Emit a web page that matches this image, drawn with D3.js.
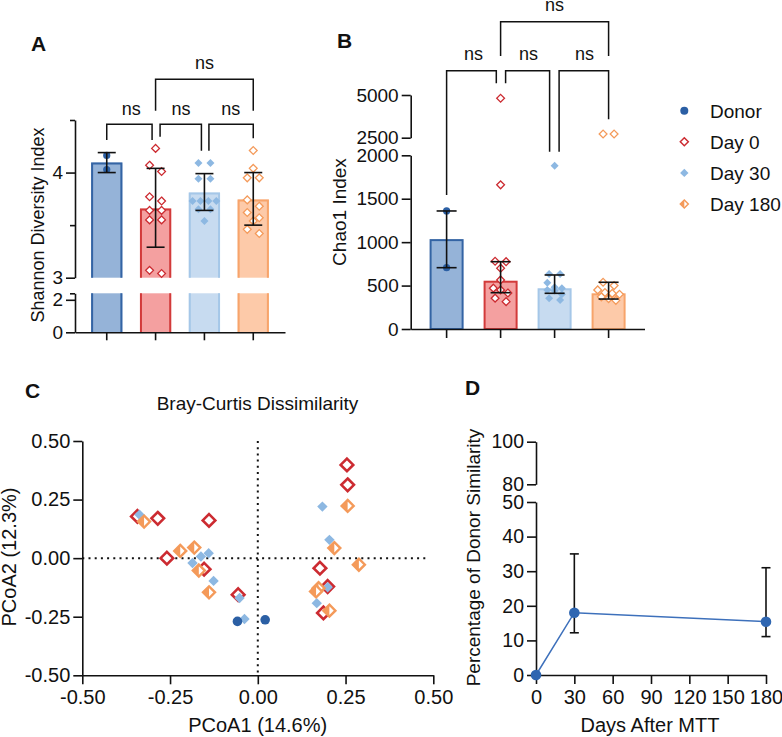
<!DOCTYPE html>
<html><head><meta charset="utf-8">
<script src="https://cdn.jsdelivr.net/npm/d3@7"></script>
<style>
body{margin:0;background:#fff}
svg{display:block}
text{font-family:"Liberation Sans",Arial,sans-serif;fill:#111}
</style>
</head><body>
<svg id="chart" width="782" height="737"></svg>
<script>
// ---------------- DATA ----------------
const groups = ["Donor", "Day 0", "Day 30", "Day 180"];

// Panel A: Shannon diversity
const shannonPoints = [
  [4.163, 4.029],
  [4.23, 4.07, 4.01, 3.77, 3.73, 3.64, 3.64, 3.55, 3.55, 3.07, 3.04],
  [4.09, 4.09, 3.94, 3.94, 3.73, 3.73, 3.73, 3.73, 3.65, 3.65, 3.54],
  [4.21, 4.04, 3.95, 3.95, 3.74, 3.68, 3.62, 3.57, 3.54, 3.46, 3.42]
];
const shannonBar = [4.096, 3.658, 3.81, 3.744];
const shannonErrLo = [4.0, 3.29, 3.64, 3.50];
const shannonErrHi = [4.19, 4.04, 3.99, 4.00];

// Panel B: Chao1
const chaoPoints = [
  [1359, 706],
  [4807, 1660, 780, 775, 700, 565, 470, 450, 415, 355, 315],
  [1881, 634, 634, 533, 480, 470, 449, 440, 400, 354, 334],
  [2717, 2717, 538, 500, 450, 420, 410, 400, 370, 350, 330]
];
const chaoBar = [1035, 556, 469, 411];
const chaoErrLo = [706, 418, 411, 345];
const chaoErrHi = [1359, 775, 622, 538];

// Panel C: PCoA (Bray-Curtis)
const pcoaDonor = [[-0.058, -0.270], [0.021, -0.263]];
const pcoaDay0 = [[-0.343, 0.178], [-0.285, 0.170], [-0.139, 0.161], [-0.259, 0.000], [-0.153, -0.047],
  [-0.056, -0.156], [0.254, 0.398], [0.256, 0.313], [0.177, -0.043], [0.199, -0.121], [0.187, -0.234]];
const pcoaDay30 = [[-0.337, 0.185], [-0.186, -0.021], [-0.162, 0.007], [-0.140, 0.021], [-0.126, -0.097],
  [-0.052, -0.170], [-0.038, -0.260], [0.184, 0.220], [0.204, 0.078], [0.199, -0.124], [0.168, -0.192]];
const pcoaDay180 = [[-0.324, 0.156], [-0.221, 0.031], [-0.181, 0.045], [-0.168, -0.053], [-0.139, -0.146],
  [0.256, 0.223], [0.218, 0.043], [0.288, -0.028], [0.173, -0.128], [0.166, -0.142], [0.204, -0.224]];

// Panel D: donor similarity
const days = [0, 30, 180];
const similarity = [0, 18.0, 15.4];
const simErrLo = [null, 12.2, 11.1];
const simErrHi = [null, 35.0, 31.0];

// Tick labels
const ticksA_up = [3, 4], ticksA_low = [0, 2];
const ticksB_up = [2500, 5000], ticksB_low = [0, 500, 1000, 1500, 2000];
const ticksC = [-0.5, -0.25, 0, 0.25, 0.5];
const ticksD_up = [80, 100], ticksD_low = [0, 10, 20, 30, 40, 50];
const ticksD_x = [0, 30, 60, 90, 120, 150, 180];

// ---------------- STYLE ----------------
const FONT = '"Liberation Sans", Arial, sans-serif';
const barFill = ["#95b3d8", "#f4a0a0", "#c7dbf0", "#fdcaa9"];
const barStroke = ["#3464a4", "#d23a3a", "#a5c7e8", "#f7a46b"];
const ptColor = ["#2b5fa4", "#cc2b31", "#8db8e2", "#f49a5a"];
const INK = "#111";

const svg = d3.select("#chart");

function styleAxis(g, fs) {
  g.attr("font-family", null).attr("font-size", null);
  g.selectAll("path.domain").attr("stroke", INK).attr("stroke-width", 1.6);
  g.selectAll(".tick line").attr("stroke", INK).attr("stroke-width", 1.6);
  g.selectAll(".tick text").attr("font-size", fs || 19).attr("font-family", FONT).attr("fill", INK);
}
function diamond(cx, cy, r) {
  return `M${cx},${cy - r}L${cx + r},${cy}L${cx},${cy + r}L${cx - r},${cy}Z`;
}
function leftHalf(cx, cy, r) {
  return `M${cx},${cy - r}L${cx},${cy + r}L${cx - r},${cy}Z`;
}
function drawMarker(g, gi, cx, cy, big) {
  if (gi === 0) {
    g.append("circle").attr("cx", cx).attr("cy", cy).attr("r", big ? 4.8 : 3.6).attr("fill", ptColor[0]);
  } else if (gi === 1) {
    g.append("path").attr("d", diamond(cx, cy, big ? 6.3 : 3.9)).attr("fill", "#fff")
      .attr("stroke", ptColor[1]).attr("stroke-width", big ? 2.6 : 1.3);
  } else if (gi === 2) {
    g.append("path").attr("d", diamond(cx, cy, big ? 5.2 : 4.0)).attr("fill", ptColor[2]);
  } else {
    const r = big ? 6.0 : 3.9;
    g.append("path").attr("d", diamond(cx, cy, r)).attr("fill", "#fff")
      .attr("stroke", ptColor[3]).attr("stroke-width", big ? 2.4 : 1.3);
    if (big) g.append("path").attr("d", leftHalf(cx, cy, r)).attr("fill", ptColor[3]);
  }
}
// group points in horizontal rows (GraphPad-like scatter)
function spread(vals, ypix, h, s) {
  const items = vals.map(v => ({ v, y: ypix(v) })).sort((a, b) => a.y - b.y);
  const out = []; let grp = [];
  const flush = () => {
    const step = grp.length > 2 ? s * 0.66 : s;
    grp.forEach((p, k) => { p.dx = (k - (grp.length - 1) / 2) * step; out.push(p); });
    grp = [];
  };
  items.forEach(p => { if (grp.length && p.y - grp[0].y >= h) flush(); grp.push(p); });
  flush();
  return out;
}
function bracket(g, x1, l1, top, x2, l2) {
  g.append("path").attr("d", `M${x1},${l1}V${top}H${x2}V${l2}`)
    .attr("fill", "none").attr("stroke", INK).attr("stroke-width", 1.5);
}
function label(txt, x, y, opts = {}) {
  const t = svg.append("text").attr("x", x).attr("y", y).text(txt)
    .attr("font-size", opts.size || 19).attr("text-anchor", opts.anchor || "middle");
  if (opts.bold) t.attr("font-weight", "bold");
  if (opts.rotate) t.attr("transform", `rotate(-90,${x},${y})`);
  return t;
}
function errBar(g, x, y1, y2, w) {
  g.append("line").attr("x1", x).attr("x2", x).attr("y1", y1).attr("y2", y2).attr("stroke", INK).attr("stroke-width", 1.6);
  [y1, y2].forEach(y => g.append("line").attr("x1", x - w / 2).attr("x2", x + w / 2).attr("y1", y).attr("y2", y)
    .attr("stroke", INK).attr("stroke-width", 1.6));
}

// ---------------- PANEL A ----------------
{
  const g = svg.append("g");
  const xA = d3.scaleBand().domain(groups).range([75, 285]).paddingInner(0.36).paddingOuter(0.33);
  const yAu = d3.scaleLinear().domain([3, 4.5]).range([277.7, 120]);
  const yAl = d3.scaleLinear().domain([0, 2.4]).range([332.3, 293.3]);
  const yA = v => v >= 3 ? yAu(v) : yAl(v);
  const bw = xA.bandwidth();

  groups.forEach((gr, i) => {
    const x0 = xA(gr), x1 = x0 + bw;
    g.append("rect").attr("x", x0).attr("width", bw).attr("y", yAl(2.4)).attr("height", yAl(0) - yAl(2.4)).attr("fill", barFill[i]);
    g.append("rect").attr("x", x0).attr("width", bw).attr("y", yAu(shannonBar[i])).attr("height", yAu(3) - yAu(shannonBar[i])).attr("fill", barFill[i]);
    g.append("path").attr("d", `M${x0 + 1},${yAu(3)}V${yAu(shannonBar[i]) + 1}H${x1 - 1}V${yAu(3)}`)
      .attr("fill", "none").attr("stroke", barStroke[i]).attr("stroke-width", 2);
    g.append("path").attr("d", `M${x0 + 1},${yAl(0)}V${yAl(2.4)}M${x1 - 1},${yAl(2.4)}V${yAl(0)}`)
      .attr("fill", "none").attr("stroke", barStroke[i]).attr("stroke-width", 2);
  });
  groups.forEach((gr, i) => {
    const cx = xA(gr) + bw / 2;
    spread(shannonPoints[i], yA, 7.5, 12).forEach(p => drawMarker(g, i, cx + p.dx, p.y, false));
  });
  groups.forEach((gr, i) => {
    const cx = xA(gr) + bw / 2;
    errBar(g, cx, yAu(shannonErrHi[i]), yAu(shannonErrLo[i]), 18);
  });

  const axU = g.append("g").attr("transform", "translate(75,0)")
    .call(d3.axisLeft(yAu).tickValues(ticksA_up).tickFormat(d3.format("d")).tickSize(9).tickSizeOuter(0).tickPadding(3));
  styleAxis(axU);
  const axUm = g.append("g").attr("transform", "translate(75,0)")
    .call(d3.axisLeft(yAu).tickValues([3.5, 4.5]).tickFormat("").tickSize(5).tickSizeOuter(0));
  styleAxis(axUm); axUm.select("path.domain").remove();
  const axL = g.append("g").attr("transform", "translate(75,0)")
    .call(d3.axisLeft(yAl).tickValues(ticksA_low).tickFormat(d3.format("d")).tickSize(9).tickSizeOuter(0).tickPadding(3));
  styleAxis(axL);
  const axLm = g.append("g").attr("transform", "translate(75,0)")
    .call(d3.axisLeft(yAl).tickValues([2.4]).tickFormat("").tickSize(5).tickSizeOuter(0));
  styleAxis(axLm); axLm.select("path.domain").remove();
  const axX = g.append("g").attr("transform", `translate(0,${yAl(0)})`)
    .call(d3.axisBottom(xA).tickFormat("").tickSize(8).tickSizeOuter(0));
  styleAxis(axX);

  const c = groups.map(gr => xA(gr) + bw / 2);
  bracket(g, c[0], 140, 124.3, c[1] - 3.5, 140);
  bracket(g, c[1] + 4.5, 136.7, 124.3, c[2] - 3, 150.7);
  bracket(g, c[2] + 4.5, 150.7, 124.3, c[3], 138.3);
  bracket(g, c[1], 110.7, 79.3, c[3], 110.7);
  label("ns", (c[0] + c[1]) / 2, 115, { size: 18 });
  label("ns", (c[1] + c[2]) / 2 + 1, 115, { size: 18 });
  label("ns", (c[2] + c[3]) / 2 + 2, 115, { size: 18 });
  label("ns", (c[1] + c[3]) / 2, 69.3, { size: 18 });

  label("Shannon Diversity Index", 44, 225, { rotate: true, size: 18 });
  label("A", 31, 51, { bold: true, size: 21, anchor: "start" });
}

// ---------------- PANEL B ----------------
{
  const g = svg.append("g");
  const xB = d3.scaleBand().domain(groups).range([410.7, 644.5]).paddingInner(0.37).paddingOuter(0.35);
  const yBl = d3.scaleLinear().domain([0, 2000]).range([329, 155.3]);
  const yBu = d3.scaleLinear().domain([2500, 5000]).range([137.7, 95]);
  const yB = v => v > 2250 ? yBu(v) : yBl(v);
  const bw = xB.bandwidth();

  groups.forEach((gr, i) => {
    g.append("rect").attr("x", xB(gr) + 1).attr("width", bw - 2).attr("y", yBl(chaoBar[i]) + 1)
      .attr("height", yBl(0) - yBl(chaoBar[i]) - 1).attr("fill", barFill[i])
      .attr("stroke", barStroke[i]).attr("stroke-width", 2);
  });
  groups.forEach((gr, i) => {
    const cx = xB(gr) + bw / 2;
    spread(chaoPoints[i], yB, 6, 11).forEach(p => drawMarker(g, i, cx + p.dx, p.y, false));
  });
  groups.forEach((gr, i) => {
    const cx = xB(gr) + bw / 2;
    errBar(g, cx, yBl(chaoErrHi[i]), yBl(chaoErrLo[i]), 20);
  });

  const axU = g.append("g").attr("transform", "translate(410.7,0)")
    .call(d3.axisLeft(yBu).tickValues(ticksB_up).tickFormat(d3.format("d")).tickSize(9).tickSizeOuter(0).tickPadding(3));
  styleAxis(axU);
  const axL = g.append("g").attr("transform", "translate(410.7,0)")
    .call(d3.axisLeft(yBl).tickValues(ticksB_low).tickFormat(d3.format("d")).tickSize(9).tickSizeOuter(0).tickPadding(3));
  styleAxis(axL);
  const axX = g.append("g").attr("transform", `translate(0,${yBl(0)})`)
    .call(d3.axisBottom(xB).tickFormat("").tickSize(9).tickSizeOuter(0));
  styleAxis(axX);

  const c = groups.map(gr => xB(gr) + bw / 2);
  bracket(g, c[0], 195, 70.7, c[1] - 4.3, 83.3);
  bracket(g, c[1] + 5, 83.3, 70.7, c[2] - 5, 151.7);
  bracket(g, c[2] + 4.5, 151.7, 70.7, c[3], 119.3);
  bracket(g, c[1], 56, 21.7, c[3], 56);
  label("ns", (c[0] + c[1]) / 2, 60, { size: 18 });
  label("ns", (c[1] + c[2]) / 2 + 1, 60, { size: 18 });
  label("ns", (c[2] + c[3]) / 2 + 3, 60, { size: 18 });
  label("ns", (c[1] + c[3]) / 2, 11, { size: 18 });

  label("Chao1 Index", 345.5, 212, { rotate: true });
  label("B", 337, 48, { bold: true, size: 21, anchor: "start" });
}

// ---------------- LEGEND ----------------
{
  const g = svg.append("g");
  groups.forEach((gr, i) => {
    const y = 110.7 + i * 31.1;
    if (i === 0) g.append("circle").attr("cx", 684.3).attr("cy", y).attr("r", 4).attr("fill", ptColor[0]);
    else if (i === 1) g.append("path").attr("d", diamond(684.3, y, 4)).attr("fill", "#fff").attr("stroke", ptColor[1]).attr("stroke-width", 1.5);
    else if (i === 2) g.append("path").attr("d", diamond(684.3, y, 4.2)).attr("fill", ptColor[2]);
    else {
      g.append("path").attr("d", diamond(684.3, y, 4)).attr("fill", "#fff").attr("stroke", ptColor[3]).attr("stroke-width", 1.5);
      g.append("path").attr("d", leftHalf(684.3, y, 4)).attr("fill", ptColor[3]);
    }
    g.append("text").attr("x", 710).attr("y", y + 6.8).text(gr).attr("font-size", 19);
  });
}

// ---------------- PANEL C ----------------
{
  const g = svg.append("g");
  const xC = d3.scaleLinear().domain([-0.5, 0.5]).range([82.3, 433.3]);
  const yC = d3.scaleLinear().domain([-0.5, 0.5]).range([675.3, 441]);
  const fmt = d => d.toFixed(2);

  g.append("line").attr("x1", xC(0)).attr("x2", xC(0)).attr("y1", yC(0.5)).attr("y2", yC(-0.5))
    .attr("stroke", INK).attr("stroke-width", 2).attr("stroke-dasharray", "2,4.2");
  g.append("line").attr("x1", xC(-0.5)).attr("x2", xC(0.485)).attr("y1", yC(0)).attr("y2", yC(0))
    .attr("stroke", INK).attr("stroke-width", 2).attr("stroke-dasharray", "2,4.2");

  const axY = g.append("g").attr("transform", `translate(${xC(-0.5)},0)`)
    .call(d3.axisLeft(yC).tickValues(ticksC).tickFormat(fmt).tickSize(9).tickSizeOuter(0).tickPadding(3));
  styleAxis(axY, 20);
  const axX = g.append("g").attr("transform", `translate(0,${yC(-0.5)})`)
    .call(d3.axisBottom(xC).tickValues(ticksC).tickFormat(fmt).tickSize(9).tickSizeOuter(0).tickPadding(6));
  styleAxis(axX, 20);

  [[pcoaDay0, 1], [pcoaDay30, 2], [pcoaDay180, 3], [pcoaDonor, 0]].forEach(([arr, gi]) => {
    arr.forEach(([x, y]) => drawMarker(g, gi, xC(x), yC(y), true));
  });

  label("Bray-Curtis Dissimilarity", 257.5, 410);
  label("PCoA1 (14.6%)", 257.7, 731.7, { size: 20 });
  label("PCoA2 (12.3%)", 16, 557, { rotate: true, size: 20 });
  label("C", 25, 398, { bold: true, size: 21, anchor: "start" });
}

// ---------------- PANEL D ----------------
{
  const g = svg.append("g");
  const xD = d3.scaleLinear().domain([0, 180]).range([536, 766]);
  const yDl = d3.scaleLinear().domain([0, 50]).range([675, 502]);
  const yDu = d3.scaleLinear().domain([80, 100]).range([484.3, 441.7]);

  const axU = g.append("g").attr("transform", "translate(536,0)")
    .call(d3.axisLeft(yDu).tickValues(ticksD_up).tickFormat(d3.format("d")).tickSize(9).tickSizeOuter(0).tickPadding(3));
  styleAxis(axU, 19.5);
  const axL = g.append("g").attr("transform", "translate(536,0)")
    .call(d3.axisLeft(yDl).tickValues(ticksD_low).tickFormat(d3.format("d")).tickSize(9).tickSizeOuter(0).tickPadding(3));
  styleAxis(axL, 19.5);
  const axX = g.append("g").attr("transform", `translate(0,${yDl(0)})`)
    .call(d3.axisBottom(xD).tickValues(ticksD_x).tickFormat(d3.format("d")).tickSize(9).tickSizeOuter(0).tickPadding(6));
  styleAxis(axX, 20);

  days.forEach((d, i) => {
    if (simErrHi[i] != null) errBar(g, xD(d), yDl(simErrHi[i]), yDl(simErrLo[i]), 9);
  });
  const line = d3.line().x((d, i) => xD(days[i])).y(d => yDl(d));
  g.append("path").datum(similarity).attr("d", line).attr("fill", "none")
    .attr("stroke", "#3d70bb").attr("stroke-width", 1.5);
  days.forEach((d, i) => {
    g.append("circle").attr("cx", xD(d)).attr("cy", yDl(similarity[i])).attr("r", 5.3).attr("fill", "#2f66b1");
  });

  label("Days After MTT", 650, 731.7, { size: 20 });
  label("Percentage of Donor Similarity", 480, 557.5, { rotate: true });
  label("D", 465, 395, { bold: true, size: 21, anchor: "start" });
}
</script>
</body></html>
